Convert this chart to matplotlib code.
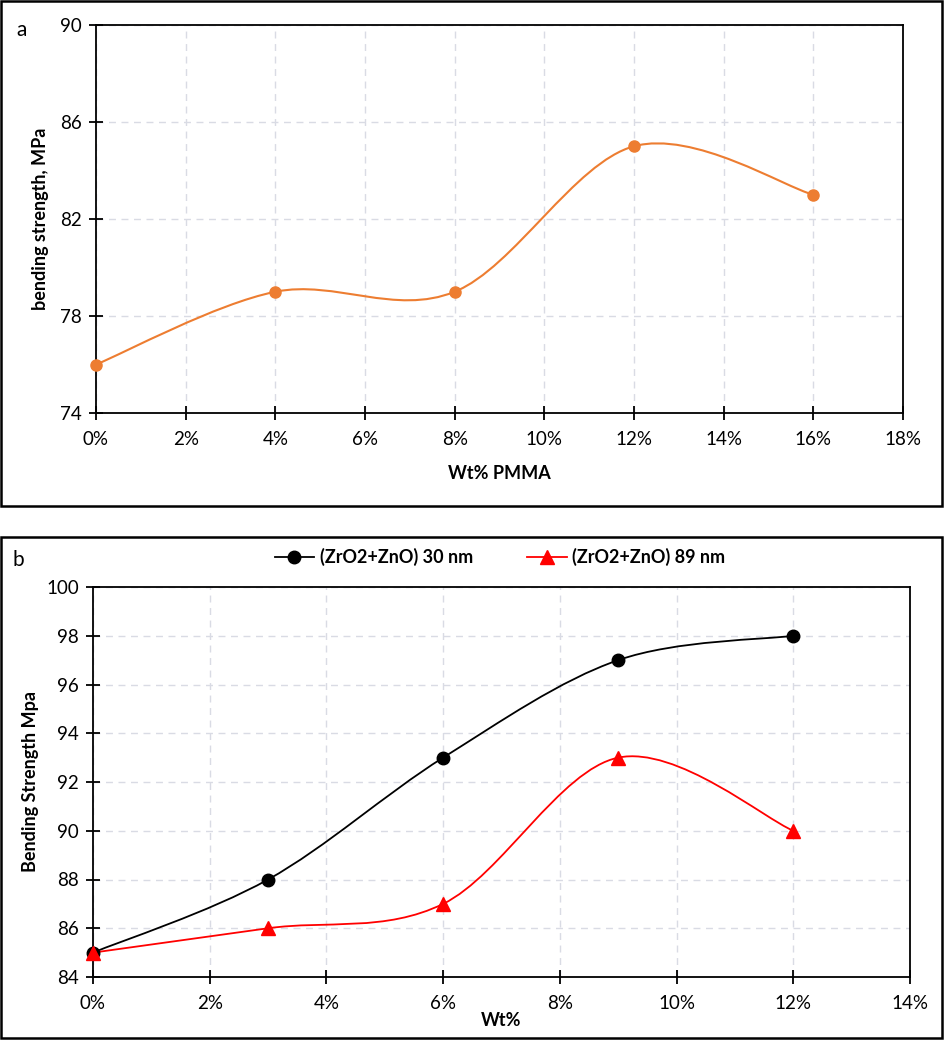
import matplotlib
matplotlib.use("Agg")
import matplotlib.pyplot as plt
from matplotlib.path import Path
from matplotlib.patches import PathPatch, Rectangle
from matplotlib.ticker import FuncFormatter, MultipleLocator
from matplotlib.lines import Line2D

# panel a data
pmma_wt = [0, 4, 8, 12, 16]
pmma_strength = [76, 79, 79, 85, 83]
pmma_yticks = [74, 78, 82, 86, 90]

# panel b data
zr_wt = [0, 3, 6, 9, 12]
zr_30nm = [85, 88, 93, 97, 98]
zr_89nm = [85, 86, 87, 93, 90]
legend_labels = ["(ZrO2+ZnO) 30 nm", "(ZrO2+ZnO) 89 nm"]

plt.rcParams["font.family"] = ["Lato", "DejaVu Sans"]
plt.rcParams["font.size"] = 13

ORANGE = "#ED7D31"
GRID = "#d9dbe4"


def smooth_path(xs, ys):
    # excel style smoothed line: cubic bezier through the points
    pts = list(zip(xs, ys))
    verts = [pts[0]]
    codes = [Path.MOVETO]
    n = len(pts)
    for i in range(n - 1):
        p0 = pts[i - 1] if i > 0 else pts[i]
        p1 = pts[i]
        p2 = pts[i + 1]
        p3 = pts[i + 2] if i + 2 < n else pts[i + 1]
        c1 = (p1[0] + (p2[0] - p0[0]) / 6, p1[1] + (p2[1] - p0[1]) / 6)
        c2 = (p2[0] - (p3[0] - p1[0]) / 6, p2[1] - (p3[1] - p1[1]) / 6)
        verts += [c1, c2, p2]
        codes += [Path.CURVE4] * 3
    return Path(verts, codes)


def style_axes(ax):
    ax.grid(True, color=GRID, linestyle=(0, (5, 4)), linewidth=1.0)
    ax.set_axisbelow(True)
    for s in ax.spines.values():
        s.set_linewidth(1.3)
        s.set_color("black")
    ax.tick_params(direction="inout", length=10, width=1.3, color="black",
                   labelsize=13.5, top=False, right=False)
    ax.tick_params(axis="x", pad=8)
    ax.tick_params(axis="y", pad=5)
    ax.xaxis.set_major_formatter(FuncFormatter(lambda v, p: f"{v:.0f}%"))


fig = plt.figure(figsize=(9.45, 10.4), dpi=100)

# frames around the panels
fig.patches.append(Rectangle((1 / 945, 1 - 506 / 1040), 941 / 945, 505 / 1040,
                             transform=fig.transFigure, fill=False,
                             edgecolor="black", linewidth=1.8))
fig.patches.append(Rectangle((1 / 945, 1 - 1038 / 1040), 941 / 945, 501 / 1040,
                             transform=fig.transFigure, fill=False,
                             edgecolor="black", linewidth=1.8))

# ---- panel a ----
ax1 = fig.add_axes([96 / 945, 1 - 413 / 1040, 807 / 945, 388 / 1040])
style_axes(ax1)
ax1.set_xlim(0, 18)
ax1.set_ylim(74, 90)
ax1.xaxis.set_major_locator(MultipleLocator(2))
ax1.set_yticks(pmma_yticks)
ax1.add_patch(PathPatch(smooth_path(pmma_wt, pmma_strength), fill=False,
                        edgecolor=ORANGE, linewidth=1.5, clip_on=False))
ax1.plot(pmma_wt, pmma_strength, linestyle="none", marker="o", markersize=8,
         color=ORANGE, clip_on=False, zorder=3)
ax1.set_xlabel("Wt% PMMA", fontweight="bold", fontsize=13, labelpad=12)
ax1.set_ylabel("bending strength, MPa", fontweight="bold", fontsize=13, labelpad=8)
fig.text(22 / 945, 1 - 30 / 1040, "a", fontsize=15, ha="center", va="center")

# ---- panel b ----
ax2 = fig.add_axes([93 / 945, 1 - 977 / 1040, 817 / 945, 390 / 1040])
style_axes(ax2)
ax2.set_xlim(0, 14)
ax2.set_ylim(84, 100)
ax2.xaxis.set_major_locator(MultipleLocator(2))
ax2.yaxis.set_major_locator(MultipleLocator(2))
ax2.add_patch(PathPatch(smooth_path(zr_wt, zr_30nm), fill=False,
                        edgecolor="black", linewidth=1.3, clip_on=False))
ax2.add_patch(PathPatch(smooth_path(zr_wt, zr_89nm), fill=False,
                        edgecolor="red", linewidth=1.3, clip_on=False))
ax2.plot(zr_wt, zr_30nm, linestyle="none", marker="o", markersize=9,
         color="black", clip_on=False, zorder=3)
ax2.plot(zr_wt, zr_89nm, linestyle="none", marker="^", markersize=10,
         color="red", clip_on=False, zorder=4)
ax2.set_xlabel("Wt%", fontweight="bold", fontsize=13, labelpad=0)
ax2.set_ylabel("Bending Strength Mpa", fontweight="bold", fontsize=13, labelpad=5)
fig.text(13 / 945, 1 - 560 / 1040, "b", fontsize=15, ha="left", va="center")

handles = [Line2D([], [], color="black", marker="o", markersize=9, linewidth=1.3),
           Line2D([], [], color="red", marker="^", markersize=10, linewidth=1.3)]
fig.legend(handles, legend_labels, loc="center", bbox_to_anchor=(500 / 945, 1 - 557 / 1040),
           ncol=2, frameon=False, handlelength=2.2, columnspacing=3,
           handletextpad=0.3, prop={"weight": "bold", "size": 13})

fig.savefig("out.png", dpi=100)
